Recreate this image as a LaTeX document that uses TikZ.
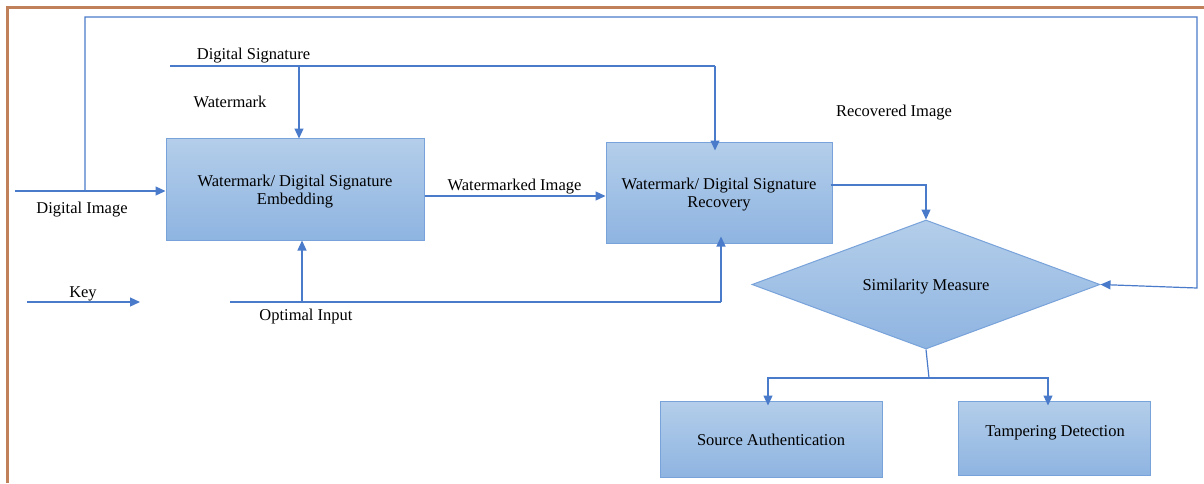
\documentclass[tikz,border=0pt]{standalone}
\usepackage{fontspec}
\setmainfont{Liberation Serif}
\usetikzlibrary{shapes.geometric,arrows.meta}
\definecolor{framebrown}{RGB}{192,128,90}
\definecolor{wireblue}{RGB}{74,123,203}
\definecolor{boxtop}{RGB}{180,206,234}
\definecolor{boxbot}{RGB}{142,180,225}
\definecolor{boxline}{RGB}{120,162,218}

% block text, set a little below the geometric centre
\newcommand\blocktext[1]{\raisebox{-2.5pt}[\height][\depth]{\begin{tabular}{@{}c@{}}#1\end{tabular}}}

\begin{document}
\begin{tikzpicture}[x=1pt,y=-1pt,
  txt/.style={font=\fontsize{16.5}{18}\selectfont},
  block/.style={txt, draw=boxline, line width=1pt, top color=boxtop, bottom color=boxbot,
                inner sep=0pt},
  lbl/.style={txt, inner sep=0pt},
  wire/.style={draw=wireblue, line width=1.2pt},
  arr/.style={wire, -{Triangle[length=10pt,width=9pt]}}]

\useasboundingbox (0,0) rectangle (1204,483);
\fill[white] (0,0) rectangle (1204,483);

% page frame
\draw[framebrown, line width=3pt] (7.5,483) -- (7.5,7) -- (1204,7);

% processing blocks
\node[block, minimum width=258pt, minimum height=102pt] (emb) at (295,189)
  {\blocktext{Watermark/ Digital Signature\\Embedding}};
\node[block, minimum width=226pt, minimum height=101pt] (rec) at (719,192.5)
  {\blocktext{Watermark/ Digital Signature\\Recovery}};
\node[block, diamond, aspect=2.7, minimum width=348pt, minimum height=129pt] (sim) at (926,284.5)
  {\blocktext{Similarity Measure}};
\node[block, minimum width=222pt, minimum height=76pt] (src) at (771,439)
  {\blocktext{Source Authentication}};
\node[block, minimum width=192pt, minimum height=74pt] (tmp) at (1054,438) {};
\node[lbl] (tmptxt) at (1055,432.5) {Tampering Detection};

% labels
\node[lbl] (lsig) at (253.5,55.5) {Digital Signature};
\node[lbl] (lwm) at (230,101.5) {Watermark};
\node[lbl] (limg) at (82,209.5) {Digital Image};
\node[lbl] (lwmi) at (514.5,186.5) {Watermarked Image};
\node[lbl] (lrec) at (894,112.5) {Recovered Image};
\node[lbl] (lkey) at (83,293.5) {Key};
\node[lbl] (lopt) at (306,316.5) {Optimal Input};

% junction points
\coordinate (imgin) at (15,191);
\coordinate (tap) at (85,191);
\coordinate (sigin) at (170,66);
\coordinate (sigsplit) at (299,66);
\coordinate (sigend) at (715,66);
\coordinate (keyin) at (27,302);
\coordinate (keyend) at (140,302);
\coordinate (optin) at (230,302);
\coordinate (optup) at (302,302);
\coordinate (optend) at (721,302);
\coordinate (branch) at (929,378);

% digital image into embedding, and the loop round to the similarity measure
\draw[arr] (imgin) -- (emb.west |- imgin);
\draw[arr] (tap) -- (85,17) -- (1197,17) -- (1197,288) -- (sim.east);

% digital signature / watermark feed
\draw[wire] (sigin) -- (sigend);
\draw[arr] (sigsplit) -- ([yshift=-1pt]emb.north -| sigsplit);
\draw[arr] (sigend) -- ([yshift=-9pt]rec.north -| sigend);

% key and optimal input
\draw[arr] (keyin) -- (keyend);
\draw[wire] (optin) -- (optend);
\draw[arr] (optup) -- (emb.south -| optup);
\draw[arr] (optend) -- ([yshift=7pt]rec.south -| optend);

% watermarked image to recovery, recovered image to similarity
\draw[arr] (emb.east |- 0,196) -- (rec.west |- 0,196);
\draw[arr] ([xshift=-2pt]rec.east |- 0,185) -- (sim.north |- 0,185) -- (sim.north);

% decision outputs
\draw[wire] (sim.south) -- (branch);
\draw[arr] (branch) -- (768,378) -- ([yshift=-5pt]src.north -| 768,0);
\draw[arr] (branch) -- (1048,378) -- ([yshift=-5pt]tmp.north -| 1048,0);
\end{tikzpicture}
\end{document}
